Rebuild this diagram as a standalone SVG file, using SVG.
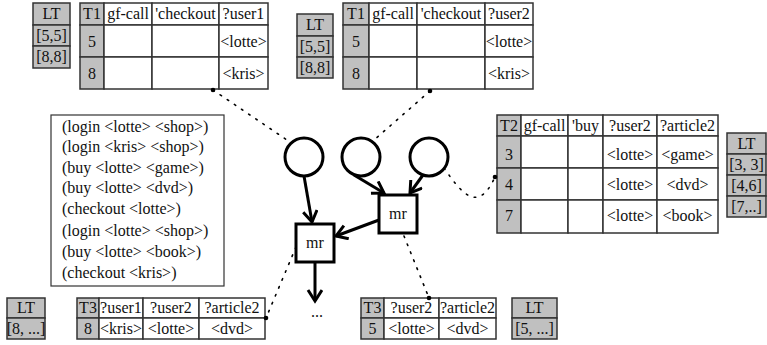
<svg xmlns="http://www.w3.org/2000/svg" width="767" height="345" viewBox="0 0 767 345">
  <style>
    text { font-family: "Liberation Serif", "Times New Roman", serif; font-size: 16px; fill: #111; }
    .c { text-anchor: middle; }
    .g { fill: #c0c0c0; stroke: #333; stroke-width: 1.5; }
    .w { fill: #fff; stroke: #333; stroke-width: 1.5; }
    .node { fill: #fff; stroke: #000; stroke-width: 3; }
    .edge { fill: none; stroke: #000; stroke-width: 3; marker-end: url(#arrow); }
    .dots { fill: none; stroke: #000; stroke-width: 1.6; stroke-dasharray: 1.6 7; stroke-linecap: round; }
  </style>
  <defs>
    <marker id="arrow" markerUnits="userSpaceOnUse" markerWidth="20" markerHeight="20" refX="14" refY="8" orient="auto">
      <path d="M3,1 L14,8 L3,15" fill="none" stroke="#000" stroke-width="3"/>
    </marker>
  </defs>
  <rect width="767" height="345" fill="#fff"/>

  <!-- lookup table next to first T1 -->
  <g id="lt-t1a">
    <rect class="g" x="33" y="3" width="37" height="22"/>
    <rect class="g" x="33" y="25" width="37" height="21"/>
    <rect class="g" x="33" y="46" width="37" height="22"/>
    <text class="c" x="51.5" y="19">LT</text>
    <text class="c" x="51.5" y="41">[5,5]</text>
    <text class="c" x="51.5" y="62">[8,8]</text>
  </g>

  <!-- first T1 table -->
  <g id="t1a">
    <rect class="g" x="80" y="3" width="24" height="22"/>
    <rect class="w" x="104" y="3" width="48" height="22"/>
    <rect class="w" x="152" y="3" width="67" height="22"/>
    <rect class="w" x="219" y="3" width="49" height="22"/>
    <rect class="g" x="80" y="25" width="24" height="32"/>
    <rect class="w" x="104" y="25" width="48" height="32"/>
    <rect class="w" x="152" y="25" width="67" height="32"/>
    <rect class="w" x="219" y="25" width="49" height="32"/>
    <rect class="g" x="80" y="57" width="24" height="32"/>
    <rect class="w" x="104" y="57" width="48" height="32"/>
    <rect class="w" x="152" y="57" width="67" height="32"/>
    <rect class="w" x="219" y="57" width="49" height="32"/>
    <text class="c" x="92" y="19">T1</text>
    <text class="c" x="128" y="19">gf-call</text>
    <text class="c" x="185.5" y="19">'checkout</text>
    <text class="c" x="243.5" y="19">?user1</text>
    <text class="c" x="92" y="47">5</text>
    <text class="c" x="243.5" y="47">&lt;lotte&gt;</text>
    <text class="c" x="92" y="79">8</text>
    <text class="c" x="243.5" y="79">&lt;kris&gt;</text>
  </g>

  <!-- lookup table next to second T1 -->
  <g id="lt-t1b">
    <rect class="g" x="297" y="14" width="36" height="22"/>
    <rect class="g" x="297" y="36" width="36" height="21"/>
    <rect class="g" x="297" y="57" width="36" height="21"/>
    <text class="c" x="315" y="30">LT</text>
    <text class="c" x="315" y="52">[5,5]</text>
    <text class="c" x="315" y="73">[8,8]</text>
  </g>

  <!-- second T1 table -->
  <g id="t1b">
    <rect class="g" x="343" y="3" width="26" height="22"/>
    <rect class="w" x="369" y="3" width="48" height="22"/>
    <rect class="w" x="417" y="3" width="68" height="22"/>
    <rect class="w" x="485" y="3" width="48" height="22"/>
    <rect class="g" x="343" y="25" width="26" height="32"/>
    <rect class="w" x="369" y="25" width="48" height="32"/>
    <rect class="w" x="417" y="25" width="68" height="32"/>
    <rect class="w" x="485" y="25" width="48" height="32"/>
    <rect class="g" x="343" y="57" width="26" height="32"/>
    <rect class="w" x="369" y="57" width="48" height="32"/>
    <rect class="w" x="417" y="57" width="68" height="32"/>
    <rect class="w" x="485" y="57" width="48" height="32"/>
    <text class="c" x="356" y="19">T1</text>
    <text class="c" x="393" y="19">gf-call</text>
    <text class="c" x="451" y="19">'checkout</text>
    <text class="c" x="509" y="19">?user2</text>
    <text class="c" x="356" y="47">5</text>
    <text class="c" x="509" y="47">&lt;lotte&gt;</text>
    <text class="c" x="356" y="79">8</text>
    <text class="c" x="509" y="79">&lt;kris&gt;</text>
  </g>

  <!-- T2 table -->
  <g id="t2">
    <rect class="g" x="497" y="115" width="24" height="21"/>
    <rect class="w" x="521" y="115" width="47" height="21"/>
    <rect class="w" x="568" y="115" width="35" height="21"/>
    <rect class="w" x="603" y="115" width="54" height="21"/>
    <rect class="w" x="657" y="115" width="61" height="21"/>
    <rect class="g" x="497" y="136" width="24" height="32"/>
    <rect class="w" x="521" y="136" width="47" height="32"/>
    <rect class="w" x="568" y="136" width="35" height="32"/>
    <rect class="w" x="603" y="136" width="54" height="32"/>
    <rect class="w" x="657" y="136" width="61" height="32"/>
    <rect class="g" x="497" y="168" width="24" height="32"/>
    <rect class="w" x="521" y="168" width="47" height="32"/>
    <rect class="w" x="568" y="168" width="35" height="32"/>
    <rect class="w" x="603" y="168" width="54" height="32"/>
    <rect class="w" x="657" y="168" width="61" height="32"/>
    <rect class="g" x="497" y="200" width="24" height="33"/>
    <rect class="w" x="521" y="200" width="47" height="33"/>
    <rect class="w" x="568" y="200" width="35" height="33"/>
    <rect class="w" x="603" y="200" width="54" height="33"/>
    <rect class="w" x="657" y="200" width="61" height="33"/>
    <text class="c" x="509" y="131">T2</text>
    <text class="c" x="544.5" y="131">gf-call</text>
    <text class="c" x="585.5" y="131">'buy</text>
    <text class="c" x="630" y="131">?user2</text>
    <text class="c" x="687.5" y="131">?article2</text>
    <text class="c" x="509" y="160">3</text>
    <text class="c" x="630" y="160">&lt;lotte&gt;</text>
    <text class="c" x="687.5" y="160">&lt;game&gt;</text>
    <text class="c" x="509" y="190">4</text>
    <text class="c" x="630" y="190">&lt;lotte&gt;</text>
    <text class="c" x="687.5" y="190">&lt;dvd&gt;</text>
    <text class="c" x="509" y="221">7</text>
    <text class="c" x="630" y="221">&lt;lotte&gt;</text>
    <text class="c" x="687.5" y="221">&lt;book&gt;</text>
  </g>

  <!-- lookup table next to T2 -->
  <g id="lt-t2">
    <rect class="g" x="727" y="133" width="39" height="21"/>
    <rect class="g" x="727" y="154" width="39" height="21"/>
    <rect class="g" x="727" y="175" width="39" height="21"/>
    <rect class="g" x="727" y="196" width="39" height="21"/>
    <text class="c" x="746.5" y="149">LT</text>
    <text class="c" x="746.5" y="170">[3, 3]</text>
    <text class="c" x="746.5" y="191">[4,6]</text>
    <text class="c" x="746.5" y="212">[7,..]</text>
  </g>

  <!-- event stream -->
  <g id="events">
    <rect x="51" y="115" width="173" height="171" fill="#fff" stroke="#333" stroke-width="1.2"/>
    <text x="62" y="132">(login &lt;lotte&gt; &lt;shop&gt;)</text>
    <text x="62" y="152">(login &lt;kris&gt; &lt;shop&gt;)</text>
    <text x="62" y="173">(buy &lt;lotte&gt; &lt;game&gt;)</text>
    <text x="62" y="193">(buy &lt;lotte&gt; &lt;dvd&gt;)</text>
    <text x="62" y="214">(checkout &lt;lotte&gt;)</text>
    <text x="62" y="236">(login &lt;lotte&gt; &lt;shop&gt;)</text>
    <text x="62" y="257">(buy &lt;lotte&gt; &lt;book&gt;)</text>
    <text x="62" y="278">(checkout &lt;kris&gt;)</text>
  </g>

  <!-- pattern nodes -->
  <g id="pattern-checkout1"><circle class="node" cx="304" cy="157" r="19"/></g>
  <g id="pattern-checkout2"><circle class="node" cx="361" cy="157" r="19"/></g>
  <g id="pattern-buy"><circle class="node" cx="429" cy="157" r="19"/></g>

  <!-- merge nodes -->
  <g id="mr-right">
    <rect class="node" x="379" y="195" width="38" height="38"/>
    <text class="c" x="398" y="219">mr</text>
  </g>
  <g id="mr-left">
    <rect class="node" x="296" y="224" width="38" height="38"/>
    <text class="c" x="315" y="248">mr</text>
  </g>

  <!-- result T3 tables -->
  <g id="lt-t3a">
    <rect class="g" x="7" y="298" width="38" height="20"/>
    <rect class="g" x="7" y="318" width="38" height="21"/>
    <text class="c" x="26" y="313">LT</text>
    <text class="c" x="26" y="334">[8, ...]</text>
  </g>
  <g id="t3a">
    <rect class="g" x="77" y="298" width="22" height="20"/>
    <rect class="w" x="99" y="298" width="44" height="20"/>
    <rect class="w" x="143" y="298" width="56" height="20"/>
    <rect class="w" x="199" y="298" width="66" height="20"/>
    <rect class="g" x="77" y="318" width="22" height="21"/>
    <rect class="w" x="99" y="318" width="44" height="21"/>
    <rect class="w" x="143" y="318" width="56" height="21"/>
    <rect class="w" x="199" y="318" width="66" height="21"/>
    <text class="c" x="88" y="313">T3</text>
    <text class="c" x="121" y="313">?user1</text>
    <text class="c" x="171" y="313">?user2</text>
    <text class="c" x="232" y="313">?article2</text>
    <text class="c" x="88" y="334">8</text>
    <text class="c" x="121" y="334">&lt;kris&gt;</text>
    <text class="c" x="171" y="334">&lt;lotte&gt;</text>
    <text class="c" x="232" y="334">&lt;dvd&gt;</text>
  </g>
  <g id="t3b">
    <rect class="g" x="361" y="298" width="23" height="20"/>
    <rect class="w" x="384" y="298" width="55" height="20"/>
    <rect class="w" x="439" y="298" width="57" height="20"/>
    <rect class="g" x="361" y="318" width="23" height="21"/>
    <rect class="w" x="384" y="318" width="55" height="21"/>
    <rect class="w" x="439" y="318" width="57" height="21"/>
    <text class="c" x="372.5" y="313">T3</text>
    <text class="c" x="411.5" y="313">?user2</text>
    <text class="c" x="467.5" y="313">?article2</text>
    <text class="c" x="372.5" y="334">5</text>
    <text class="c" x="411.5" y="334">&lt;lotte&gt;</text>
    <text class="c" x="467.5" y="334">&lt;dvd&gt;</text>
  </g>
  <g id="lt-t3b">
    <rect class="g" x="512" y="298" width="45" height="20"/>
    <rect class="g" x="512" y="318" width="45" height="21"/>
    <text class="c" x="534.5" y="313">LT</text>
    <text class="c" x="534.5" y="334">[5, ...]</text>
  </g>

  <!-- connectors -->
  <g id="connectors">
    <line class="edge" x1="304" y1="176" x2="312" y2="222"/>
    <line class="edge" x1="354" y1="175" x2="384" y2="193"/>
    <line class="edge" x1="423" y1="175" x2="410" y2="193"/>
    <line class="edge" x1="379" y1="220" x2="336" y2="236"/>
    <line class="edge" x1="315" y1="262" x2="315" y2="301"/>
    <text class="c" x="317" y="317">...</text>

    <path class="dots" d="M213,90 L287,140"/>
    <path class="dots" d="M430,91 L374,140"/>
    <path class="dots" d="M444,168 C462,194 478,214 495,177"/>
    <path class="dots" d="M296,247 L266,318"/>
    <path class="dots" d="M404,236 L429,298"/>
    <circle cx="213" cy="90" r="2.3"/>
    <circle cx="430" cy="91" r="2.3"/>
    <circle cx="495" cy="177" r="2.3"/>
    <circle cx="266" cy="318" r="2.3"/>
    <circle cx="429" cy="298" r="2.3"/>
  </g>
</svg>
